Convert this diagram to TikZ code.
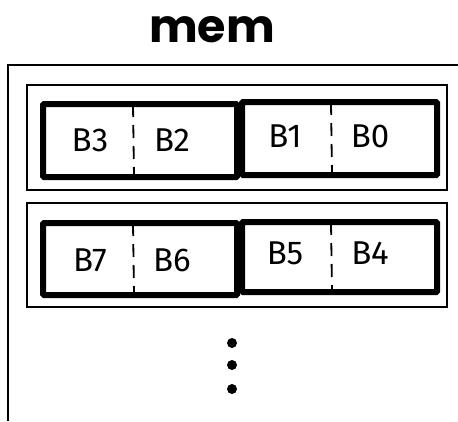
\documentclass[tikz,border=0pt]{standalone}
\usepackage{fontspec}
\setmainfont{Fira Sans}
\newfontfamily\titlefont{Poppins}
\newfontfamily\labelfont{Fira Sans}
\begin{document}
\begin{tikzpicture}[x=1pt,y=-1pt,
  rowbox/.style={draw,line width=2pt},
  wordbox/.style={draw,line width=6pt,rounded corners=1pt},
  divider/.style={line width=1.8pt,dash pattern=on 13pt off 8pt,dash phase=0pt},
  blabel/.style={font=\labelfont\fontsize{33}{33}\selectfont},
  dot/.style={circle,fill=black,inner sep=0pt,minimum size=10pt}]
\useasboundingbox (0,0) rectangle (458,421);
% container
\draw[line width=2.5pt] (458,65) coordinate (tr) -- (8,65) coordinate (tl) -- (8,421) coordinate (bl);
\node[font=\titlefont\bfseries\fontsize{46}{46}\selectfont] (title) at (212,30) {mem};
% row 1
\draw[rowbox] (27,85) rectangle (447,190);
\draw[wordbox] (43,104) rectangle (237,177);
\draw[wordbox] (242,102) rectangle (437,175);
\coordinate (d1t) at (133,104); \coordinate (d1b) at (134,177);
\coordinate (d2t) at (331,102); \coordinate (d2b) at (332,175);
\draw[divider] (d1t) -- (d1b);
\draw[divider] (d2t) -- (d2b);
\node[blabel] (b3) at (90,140) {B3};
\node[blabel] (b2) at (172,140) {B2};
\node[blabel] (b1) at (285,136) {B1};
\node[blabel] (b0) at (370,136) {B0};
% row 2
\draw[rowbox] (27,203) rectangle (447,307);
\draw[wordbox] (43,223) rectangle (237,295);
\draw[wordbox] (242,222) rectangle (437,292);
\coordinate (d3t) at (133,223); \coordinate (d3b) at (134,295);
\coordinate (d4t) at (331,222); \coordinate (d4b) at (332,292);
\draw[divider] (d3t) -- (d3b);
\draw[divider] (d4t) -- (d4b);
\node[blabel] (b7) at (90,260) {B7};
\node[blabel] (b6) at (172,260) {B6};
\node[blabel] (b5) at (285,253) {B5};
\node[blabel] (b4) at (370,253) {B4};
% dots
\node[dot] (p1) at (232,343) {};
\node[dot] (p2) at (232,365) {};
\node[dot] (p3) at (232,389) {};
\end{tikzpicture}
\end{document}
